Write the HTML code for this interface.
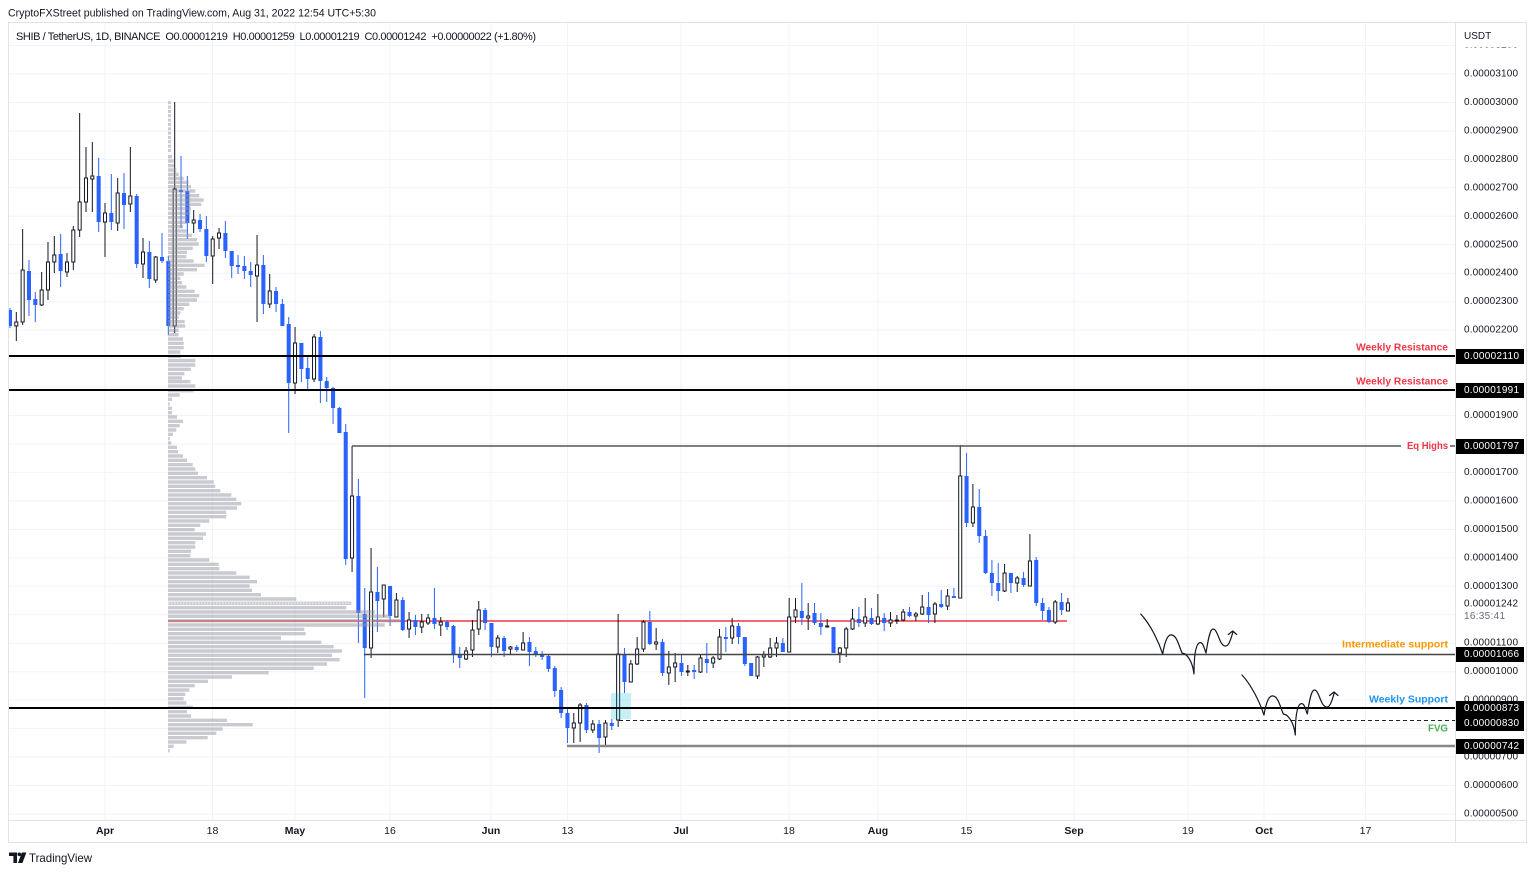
<!DOCTYPE html>
<html><head><meta charset="utf-8"><style>html,body{margin:0;padding:0;background:#fff}svg{display:block}</style></head>
<body>
<svg width="1536" height="874" viewBox="0 0 1536 874" xmlns="http://www.w3.org/2000/svg" font-family="'Liberation Sans', sans-serif">
<defs><clipPath id="ca"><rect x="9" y="23" width="1446" height="797"/></clipPath></defs>
<rect width="1536" height="874" fill="#fff"/>
<!-- header -->
<text x="8" y="13.5" font-size="11" fill="#131722" dominant-baseline="central" textLength="368" lengthAdjust="spacingAndGlyphs">CryptoFXStreet published on TradingView.com, Aug 31, 2022 12:54 UTC+5:30</text>
<!-- grid -->
<g stroke="#f0f3fa" stroke-width="1" fill="none">
<path d="M9 45.5H1455M9 74H1455M9 102.5H1455M9 131H1455M9 159.4H1455M9 187.8H1455M9 216.3H1455M9 244.8H1455M9 273.2H1455M9 301.7H1455M9 330.1H1455M9 358.6H1455M9 387.1H1455M9 415.5H1455M9 444H1455M9 472.4H1455M9 500.9H1455M9 529.4H1455M9 557.8H1455M9 586.3H1455M9 614.7H1455M9 643.2H1455M9 671.7H1455M9 700.1H1455M9 728.6H1455M9 757H1455M9 785.5H1455M9 814H1455"/>
<path d="M105 23V820M212.5 23V820M295 23V820M390 23V820M491 23V820M567.5 23V820M681 23V820M789 23V820M878 23V820M966.5 23V820M1074 23V820M1188 23V820M1264 23V820M1365.5 23V820"/>
</g>
<!-- symbol line -->
<text x="16" y="37" font-size="11" fill="#131722" dominant-baseline="central" xml:space="preserve" textLength="520" lengthAdjust="spacing">SHIB / TetherUS, 1D, BINANCE  O0.00001219  H0.00001259  L0.00001219  C0.00001242  +0.00000022 (+1.80%)</text>
<g clip-path="url(#ca)">
<!-- red line -->
<line x1="168" y1="621" x2="1067" y2="621" stroke="#f23645" stroke-width="1.5"/>
<!-- candles -->
<g transform="translate(105 0) scale(6.335 1)">
<path fill="none" stroke="#2962ff" stroke-width="1" vector-effect="non-scaling-stroke" d="M-15 308V328M-12 260V316M-11 292V322M-7 234V287M-1 158V232M1 174V230M3 173V229M5 194V268M7 241V288M9 233V263M10 256V335M12 156V228M13 176V239M15 214V232M16 216V262M19 221V258M20 251V278M21 255V274M22 256V279M23 262V287M25 255V314M27 287V312M28 299V326M29 317V433M31 343V382M32 355V389M34 331V403M35 377V402M36 387V424M37 407V433M38 424V565M40 479V643M41 588V698M43 567V632M45 586V626M47 597V631M49 615V635M52 588V629M54 620V630M55 625V663M56 647V668M60 608V630M61 623V657M63 636V657M65 645V652M67 637V666M68 647V657M69 651V660M70 655V672M71 666V697M72 687V718M73 708V743M76 703V733M78 720V753M80 719V730M82 648V693M86 611V645M88 639V676M91 655V676M93 665V679M95 643V673M98 627V652M100 623V644M101 637V666M102 663V676M107 638V652M110 583V625M112 603V625M113 613V635M115 627V653M119 607V627M121 608V625M123 613V631M127 607V617M130 592V623M132 590V608M134 588V598M136 453V527M138 489V543M139 530V574M140 560V596M141 563V601M143 573V593M145 572V587M147 557V606M148 598V620M149 607V623M151 593V615"/>
<path fill="#2962ff" d="M-15.32 310h.64V326h-.64zM-12.32 271h.64V300h-.64zM-11.32 299h.64V305h-.64zM-7.32 254h.64V271h-.64zM-1.32 176h.64V222h-.64zM.68 213h.64V222h-.64zM2.68 193h.64V205h-.64zM4.68 196h.64V264h-.64zM6.68 252h.64V279h-.64zM8.68 257h.64V261h-.64zM9.68 261h.64V326h-.64zM11.68 190h.64V192h-.64zM12.68 191h.64V223h-.64zM14.68 220h.64V229h-.64zM15.68 229h.64V256h-.64zM18.68 233h.64V251h-.64zM19.68 251h.64V266h-.64zM20.68 265h.64V267h-.64zM21.68 266h.64V271h-.64zM22.68 271h.64V275h-.64zM24.68 265h.64V304h-.64zM26.68 291h.64V304h-.64zM27.68 304h.64V326h-.64zM28.68 324h.64V383h-.64zM30.68 343h.64V369h-.64zM31.68 368h.64V379h-.64zM33.68 337h.64V381h-.64zM34.68 381h.64V388h-.64zM35.68 388h.64V408h-.64zM36.68 408h.64V433h-.64zM37.68 432h.64V559h-.64zM39.68 496h.64V613h-.64zM40.68 614h.64V648h-.64zM42.68 592h.64V601h-.64zM44.68 586h.64V616h-.64zM46.68 600h.64V630h-.64zM48.68 620h.64V627h-.64zM51.68 618h.64V624h-.64zM53.68 622h.64V627h-.64zM54.68 626h.64V655h-.64zM55.68 655h.64V658h-.64zM59.68 610h.64V623h-.64zM60.68 623h.64V647h-.64zM62.68 638h.64V651h-.64zM64.68 647h.64V650h-.64zM66.68 642h.64V652h-.64zM67.68 651h.64V654h-.64zM68.68 655h.64V657h-.64zM69.68 656h.64V669h-.64zM70.68 668h.64V691h-.64zM71.68 690h.64V713h-.64zM72.68 713h.64V728h-.64zM75.68 705h.64V730h-.64zM77.68 724h.64V738h-.64zM79.68 723h.64V726h-.64zM81.68 654h.64V682h-.64zM85.68 622h.64V644h-.64zM87.68 642h.64V673h-.64zM90.68 663h.64V672h-.64zM92.68 670h.64V672h-.64zM94.68 659h.64V663h-.64zM97.68 637h.64V639h-.64zM99.68 626h.64V637h-.64zM100.68 637h.64V664h-.64zM101.68 663h.64V676h-.64zM106.68 643h.64V652h-.64zM109.68 611h.64V618h-.64zM111.68 613h.64V623h-.64zM112.68 623h.64V627h-.64zM114.68 627h.64V653h-.64zM118.68 619h.64V623h-.64zM120.68 618h.64V624h-.64zM122.68 618h.64V623h-.64zM126.68 612h.64V616h-.64zM129.68 607h.64V615h-.64zM131.68 604h.64V607h-.64zM133.68 596h.64V598h-.64zM135.68 476h.64V523h-.64zM137.68 507h.64V536h-.64zM138.68 536h.64V573h-.64zM139.68 573h.64V583h-.64zM140.68 583h.64V591h-.64zM142.68 573h.64V583h-.64zM144.68 578h.64V585h-.64zM146.68 560h.64V603h-.64zM147.68 603h.64V611h-.64zM148.68 610h.64V622h-.64zM150.68 602h.64V610h-.64z"/>
<path fill="none" stroke="#131722" stroke-width="1" vector-effect="non-scaling-stroke" d="M-14 312V341M-13 229V325M-10 272V306M-9 242V300M-8 236V273M-6 253V277M-5 226V270M-4 113V237M-3 147V212M-2 142V212M0 203V257M2 178V231M4 147V212M6 238V278M8 256V283M11 102V333M14 210V233M17 236V284M18 228V249M24 235V322M26 274V308M30 327V394M33 334V382M39 446V572M42 548V658M44 585V617M46 593V617M48 612V638M50 614V633M51 614V625M53 617V636M57 647V660M58 620V657M59 601V635M62 635V653M64 646V655M66 632V650M74 713V743M75 703V742M77 720V733M79 720V746M81 614V727M83 660V682M84 637V665M85 620V652M87 628V650M89 651V685M90 653V682M92 665V676M94 655V673M96 656V668M97 629V660M99 618V644M103 656V679M104 651V667M105 638V658M106 637V657M108 598V652M109 598V623M111 603V630M114 619V627M116 647V663M117 627V657M118 609V630M120 598V627M122 594V625M124 612V627M125 615V624M126 609V621M128 612V621M129 595V615M131 602V623M133 589V610M135 445V598M137 484V527M142 564V592M144 576V592M146 534V586M150 600V624M152 598V611"/>
<path fill="#fff" stroke="#131722" stroke-width="1" vector-effect="non-scaling-stroke" d="M-14.24 322h.48V326h-.48zM-13.24 270h.48V322h-.48zM-10.24 290h.48V305h-.48zM-9.24 262h.48V290h-.48zM-8.24 255h.48V262h-.48zM-6.24 262h.48V272h-.48zM-5.24 230h.48V262h-.48zM-4.24 202h.48V230h-.48zM-3.24 178h.48V202h-.48zM-2.24 176h.48V179h-.48zM-.24 213h.48V222h-.48zM1.76 193h.48V223h-.48zM3.76 196h.48V204h-.48zM5.76 252h.48V264h-.48zM7.76 257h.48V280h-.48zM10.76 189h.48V326h-.48zM13.76 220h.48V223h-.48zM16.76 239h.48V256h-.48zM17.76 233h.48V238h-.48zM23.76 265h.48V276h-.48zM25.76 291h.48V304h-.48zM29.76 343h.48V383h-.48zM32.76 337h.48V379h-.48zM38.76 496h.48V558h-.48zM41.76 592h.48V648h-.48zM43.76 585h.48V599h-.48zM45.76 600h.48V617h-.48zM47.76 620h.48V629h-.48zM49.76 622h.48V627h-.48zM50.76 618h.48V623h-.48zM52.76 622h.48V625h-.48zM56.76 651h.48V659h-.48zM57.76 630h.48V650h-.48zM58.76 610h.48V629h-.48zM61.76 638h.48V647h-.48zM63.76 647h.48V649h-.48zM65.76 643h.48V650h-.48zM73.76 723h.48V728h-.48zM74.76 705h.48V723h-.48zM76.76 724h.48V730h-.48zM78.76 723h.48V737h-.48zM80.76 654h.48V720h-.48zM82.76 664h.48V682h-.48zM83.76 649h.48V664h-.48zM84.76 622h.48V649h-.48zM86.76 642h.48V644h-.48zM88.76 667h.48V673h-.48zM89.76 663h.48V667h-.48zM91.76 671h.48V672h-.48zM93.76 658h.48V672h-.48zM95.76 658h.48V663h-.48zM96.76 637h.48V659h-.48zM98.76 626h.48V638h-.48zM102.76 657h.48V676h-.48zM103.76 655h.48V657h-.48zM104.76 648h.48V657h-.48zM105.76 643h.48V648h-.48zM107.76 617h.48V652h-.48zM108.76 610h.48V617h-.48zM110.76 616h.48V618h-.48zM113.76 626h.48V627h-.48zM115.76 648h.48V653h-.48zM116.76 629h.48V648h-.48zM117.76 619h.48V629h-.48zM119.76 617h.48V623h-.48zM121.76 617h.48V624h-.48zM123.76 620h.48V623h-.48zM124.76 620h.48V621h-.48zM125.76 612h.48V620h-.48zM127.76 614h.48V616h-.48zM128.76 607h.48V614h-.48zM130.76 604h.48V614h-.48zM132.76 596h.48V606h-.48zM134.76 476h.48V598h-.48zM136.76 507h.48V523h-.48zM141.76 573h.48V591h-.48zM143.76 578h.48V583h-.48zM145.76 561h.48V586h-.48zM149.76 602h.48V622h-.48zM151.76 603h.48V611h-.48z"/>
</g>
<!-- volume profile -->
<path fill="#9598a1" fill-opacity="0.5" d="M168 101.3h3v3h-3zM168 105.6h3v3h-3zM168 110h3v3h-3zM168 114.3h3v3h-3zM168 118.6h3v3h-3zM168 123h3v3h-3zM168 127.3h3v3h-3zM168 131.6h3v3h-3zM168 136h3v3h-3zM168 140.3h3v3h-3zM168 144.6h3v3h-3zM168 149h3v3h-3zM168 155h4v3.4h-4zM168 159.3h5.7v3.4h-5.7zM168 164h6.3v3.4h-6.3zM168 168.3h8.3v3.4h-8.3zM168 172.6h10.7v3.4h-10.7zM168 176.6h15.7v3.4h-15.7zM168 180.6h20.7v3.4h-20.7zM168 185h23v3.4h-23zM168 189.3h27.3v3.4h-27.3zM168 194h31.3v3.4h-31.3zM168 198.3h35.7v3.4h-35.7zM168 202.6h33.3v3.4h-33.3zM168 207h23v3.4h-23zM168 211.6h22.3v3.4h-22.3zM168 216h19v3.4h-19zM168 220.6h20v3.4h-20zM168 225h15v3.4h-15zM168 229.3h19v3.4h-19zM168 233.6h24v3.4h-24zM168 238h29v3.4h-29zM168 242.3h30.7v3.4h-30.7zM168 246.6h24.7v3.4h-24.7zM168 250.6h19v3.4h-19zM168 255h18.3v3.4h-18.3zM168 259.3h25.7v3.4h-25.7zM168 263.6h36.7v3.4h-36.7zM168 268h29v3.4h-29zM168 272.3h15.7v3.4h-15.7zM168 276.6h12.3v3.4h-12.3zM168 281h14v3.4h-14zM168 285.3h18.3v3.4h-18.3zM168 289.6h26.7v3.4h-26.7zM168 294h31.3v3.4h-31.3zM168 298.3h29v3.4h-29zM168 302.6h21.3v3.4h-21.3zM168 307h15.7v3.4h-15.7zM168 311.3h12.3v3.4h-12.3zM168 315.6h10.7v3.4h-10.7zM168 320h16.7v3.4h-16.7zM168 324.3h17.3v3.4h-17.3zM168 328.6h10.7v3.4h-10.7zM168 333h10.7v3.4h-10.7zM168 337.3h15v3.4h-15zM168 341.6h15.7v3.4h-15.7zM168 346h15.7v3.4h-15.7zM168 350.3h12.3v3.4h-12.3zM168 354.6h13v3.4h-13zM168 359h27.3v3.4h-27.3zM168 363.3h27.3v3.4h-27.3zM168 367.6h23v3.4h-23zM168 372h16.3v3.4h-16.3zM168 376.3h14v3.4h-14zM168 380h22.3v3.4h-22.3zM168 384.3h27.3v3.4h-27.3zM168 389h25.7v3.4h-25.7zM168 393.3h11.7v3.4h-11.7zM168 397.6h4v3.4h-4zM168 402.3h1.7v3.4h-1.7zM168 406.6h4v3.4h-4zM168 411h4v3.4h-4zM168 415.3h9v3.4h-9zM168 419.6h15v3.4h-15zM168 424h11.7v3.4h-11.7zM168 428.3h8.3v3.4h-8.3zM168 432.6h5v3.4h-5zM168 437h1.7v3.4h-1.7zM168 441.3h3.3v3.4h-3.3zM168 445.6h9v3.4h-9zM168 450h10v3.4h-10zM168 454.3h15v3.4h-15zM168 458.6h19v3.4h-19zM168 463h24.7v3.4h-24.7zM168 467.3h27.3v3.4h-27.3zM168 471.6h30v3.4h-30zM168 476h39v3.4h-39zM168 480.3h45.7v3.4h-45.7zM168 484.6h47.3v3.4h-47.3zM168 489h52.3v3.4h-52.3zM168 493.3h63.3v3.4h-63.3zM168 497.6h68.3v3.4h-68.3zM168 502h73.3v3.4h-73.3zM168 506.3h69v3.4h-69zM168 510.6h58v3.4h-58zM168 515h58.3v3.4h-58.3zM168 519.3h41.3v3.4h-41.3zM168 523.6h32.3v3.4h-32.3zM168 528h26.7v3.4h-26.7zM168 532.3h38v3.4h-38zM168 536.6h35v3.4h-35zM168 541h27.3v3.4h-27.3zM168 545.3h27.3v3.4h-27.3zM168 549.6h23v3.4h-23zM168 554h22.3v3.4h-22.3zM168 558.3h41.3v3.4h-41.3zM168 562.6h50.7v3.4h-50.7zM168 567h51.3v3.4h-51.3zM168 571.3h68.3v3.4h-68.3zM168 575.6h81.7v3.4h-81.7zM168 580h89v3.4h-89zM168 584.3h81.7v3.4h-81.7zM168 588.6h84v3.4h-84zM168 593h93v3.4h-93zM168 597.3h128.3v3.4h-128.3zM168 601.6h183.3v3.4h-183.3zM168 606h178.3v3.4h-178.3zM168 610.3h207v3.4h-207zM168 614.6h222v3.4h-222zM168 619h232v3.4h-232zM168 623.3h216.7v3.4h-216.7zM168 627.6h136.3v3.4h-136.3zM168 632h137.7v3.4h-137.7zM168 636.3h113v3.4h-113zM168 640.6h153.3v3.4h-153.3zM168 645h165.7v3.4h-165.7zM168 649.3h174v3.4h-174zM168 653.6h164v3.4h-164zM168 658h171.7v3.4h-171.7zM168 662.3h159v3.4h-159zM168 666.6h145.7v3.4h-145.7zM168 671h100.7v3.4h-100.7zM168 675.3h64v3.4h-64zM168 679.6h40v3.4h-40zM168 684h26.7v3.4h-26.7zM168 688.3h21.3v3.4h-21.3zM168 692.6h17.3v3.4h-17.3zM168 697h15.7v3.4h-15.7zM168 701.3h18.3v3.4h-18.3zM168 705.6h24.7v3.4h-24.7zM168 710h19v3.4h-19zM168 714.3h23v3.4h-23zM168 718.6h59v3.4h-59zM168 723h84.7v3.4h-84.7zM168 727.3h54.7v3.4h-54.7zM168 731.6h48.3v3.4h-48.3zM168 736h39.7v3.4h-39.7zM168 740.3h18.3v3.4h-18.3zM168 744.6h5.7v3.4h-5.7zM168 749h1.7v3.4h-1.7z"/>
<line x1="168" y1="603.3" x2="351" y2="603.3" stroke="#fff" stroke-width="1" stroke-dasharray="1.5 1.5"/>
<!-- FVG box -->
<rect x="611" y="693" width="20" height="26" fill="#00bcd4" fill-opacity="0.22"/>
<!-- drawn lines -->
<line x1="8" y1="356" x2="1455" y2="356" stroke="#000" stroke-width="2"/>
<line x1="8" y1="390" x2="1455" y2="390" stroke="#000" stroke-width="2"/>
<path d="M352 446H1401M1450 446H1455" stroke="#555" stroke-width="1.5" fill="none"/>
<line x1="364" y1="654.5" x2="1455" y2="654.5" stroke="#444" stroke-width="1.5"/>
<line x1="8" y1="708" x2="1455" y2="708" stroke="#000" stroke-width="2"/>
<line x1="619" y1="720.5" x2="1455" y2="720.5" stroke="#222" stroke-width="1" stroke-dasharray="4 3"/>
<line x1="567" y1="746" x2="1455" y2="746" stroke="#888" stroke-width="2.5"/>
<!-- squiggles -->
<g fill="none" stroke="#131722" stroke-width="1.2" stroke-linecap="round" stroke-linejoin="round">
<g>
<path d="M1140.7 614 C1150 624 1158 640 1162.7 654 C1165 640 1168 634 1172 635 C1177 636 1179 646 1182 653 L1185 654 C1190 658 1193 666 1194 674 C1194 660 1195 646 1199 643 C1203 641 1204 648 1206 653 C1208 640 1210 629 1213 629 C1218 629 1219 645 1225 646 C1229 647 1231 638 1233 632"/>
<path d="M1228.3 634.5 L1232.7 631 L1236.7 634.5"/>
</g>
<g transform="translate(101.3 61)">
<path d="M1140.7 614 C1150 624 1158 640 1162.7 654 C1165 640 1168 634 1172 635 C1177 636 1179 646 1182 653 L1185 654 C1190 658 1193 666 1194 674 C1194 660 1195 646 1199 643 C1203 641 1204 648 1206 653 C1208 640 1210 629 1213 629 C1218 629 1219 645 1225 646 C1229 647 1231 638 1233 632"/>
<path d="M1228.3 634.5 L1232.7 631 L1236.7 634.5"/>
</g>
</g>
<!-- line labels -->
<g font-size="10.5" font-weight="bold" dominant-baseline="central" text-anchor="end">
<text x="1448" y="347.5" fill="#f23645" textLength="92" lengthAdjust="spacingAndGlyphs">Weekly Resistance</text>
<text x="1448" y="381.5" fill="#f23645" textLength="92" lengthAdjust="spacingAndGlyphs">Weekly Resistance</text>
<text x="1448" y="446" fill="#f23645" textLength="41" lengthAdjust="spacingAndGlyphs">Eq Highs</text>
<text x="1448" y="644.5" fill="#ff9800" textLength="106" lengthAdjust="spacingAndGlyphs">Intermediate support</text>
<text x="1448" y="699.5" fill="#2196f3" textLength="79" lengthAdjust="spacingAndGlyphs">Weekly Support</text>
<text x="1448" y="728.5" fill="#4caf50" textLength="20" lengthAdjust="spacingAndGlyphs">FVG</text>
</g>
</g>
<!-- price axis -->
<g font-size="10" fill="#131722" dominant-baseline="central">
<text x="1464" y="45.5" textLength="54">0.00003200</text>
<text x="1464" y="74" textLength="54">0.00003100</text>
<text x="1464" y="102.5" textLength="54">0.00003000</text>
<text x="1464" y="131" textLength="54">0.00002900</text>
<text x="1464" y="159.4" textLength="54">0.00002800</text>
<text x="1464" y="187.8" textLength="54">0.00002700</text>
<text x="1464" y="216.3" textLength="54">0.00002600</text>
<text x="1464" y="244.8" textLength="54">0.00002500</text>
<text x="1464" y="273.2" textLength="54">0.00002400</text>
<text x="1464" y="301.7" textLength="54">0.00002300</text>
<text x="1464" y="330.1" textLength="54">0.00002200</text>
<text x="1464" y="415.5" textLength="54">0.00001900</text>
<text x="1464" y="472.4" textLength="54">0.00001700</text>
<text x="1464" y="500.9" textLength="54">0.00001600</text>
<text x="1464" y="529.4" textLength="54">0.00001500</text>
<text x="1464" y="557.8" textLength="54">0.00001400</text>
<text x="1464" y="586.3" textLength="54">0.00001300</text>
<text x="1464" y="643.2" textLength="54">0.00001100</text>
<text x="1464" y="671.7" textLength="54">0.00001000</text>
<text x="1464" y="700.1" textLength="54">0.00000900</text>
<text x="1464" y="757" textLength="54">0.00000700</text>
<text x="1464" y="785.5" textLength="54">0.00000600</text>
<text x="1464" y="814" textLength="54">0.00000500</text>
</g>
<rect x="1456" y="23" width="70" height="24.5" fill="#fff"/>
<text x="1464" y="36.5" font-size="10" fill="#131722" dominant-baseline="central">USDT</text>
<rect x="1456" y="597" width="70" height="26" fill="#fff"/>
<text x="1464" y="604" font-size="10" fill="#131722" dominant-baseline="central" textLength="54">0.00001242</text>
<text x="1464" y="616.5" font-size="10" fill="#6a6d78" dominant-baseline="central" textLength="41">16:35:41</text>
<g fill="#000">
<rect x="1455" y="349" width="69" height="15"/>
<rect x="1455" y="383" width="69" height="15"/>
<rect x="1455" y="439" width="69" height="15"/>
<rect x="1455" y="647" width="69" height="15"/>
<rect x="1455" y="701" width="69" height="15"/>
<rect x="1455" y="715" width="69" height="16"/>
<rect x="1455" y="739" width="69" height="15"/>
</g>
<g font-size="10" fill="#fff" dominant-baseline="central">
<text x="1464" y="356.5" textLength="55">0.00002110</text>
<text x="1464" y="390.5" textLength="55">0.00001991</text>
<text x="1464" y="446.5" textLength="55">0.00001797</text>
<text x="1464" y="654.5" textLength="55">0.00001066</text>
<text x="1464" y="708.5" textLength="55">0.00000873</text>
<text x="1464" y="723.5" textLength="55">0.00000830</text>
<text x="1464" y="746.5" textLength="55">0.00000742</text>
</g>
<!-- time axis -->
<rect x="9" y="820.5" width="1517" height="22" fill="#fff"/>
<g font-size="10.5" fill="#131722" dominant-baseline="central" text-anchor="middle">
<text x="105" y="831" font-weight="bold">Apr</text>
<text x="212.5" y="831">18</text>
<text x="295" y="831" font-weight="bold">May</text>
<text x="390" y="831">16</text>
<text x="491" y="831" font-weight="bold">Jun</text>
<text x="567.5" y="831">13</text>
<text x="681" y="831" font-weight="bold">Jul</text>
<text x="789" y="831">18</text>
<text x="878" y="831" font-weight="bold">Aug</text>
<text x="966.5" y="831">15</text>
<text x="1074" y="831" font-weight="bold">Sep</text>
<text x="1188" y="831">19</text>
<text x="1264" y="831" font-weight="bold">Oct</text>
<text x="1365.5" y="831">17</text>
</g>
<!-- frame -->
<g fill="none" stroke="#e0e3eb" stroke-width="1">
<rect x="8.5" y="22.5" width="1518" height="820"/>
<line x1="1455.5" y1="22.5" x2="1455.5" y2="842.5"/>
<line x1="8.5" y1="820.5" x2="1526.5" y2="820.5"/>
</g>
<!-- footer -->
<g fill="#131722">
<path d="M9 852.5h8v10.5h-3.6v-7h-4.4z"/>
<circle cx="19.3" cy="854.3" r="1.8"/>
<path d="M21.8 852.5h4.6l-4 10.5h-4.4z"/>
<text x="29" y="858" font-size="12" dominant-baseline="central" textLength="63" lengthAdjust="spacingAndGlyphs">TradingView</text>
</g>
</svg>
</body></html>
